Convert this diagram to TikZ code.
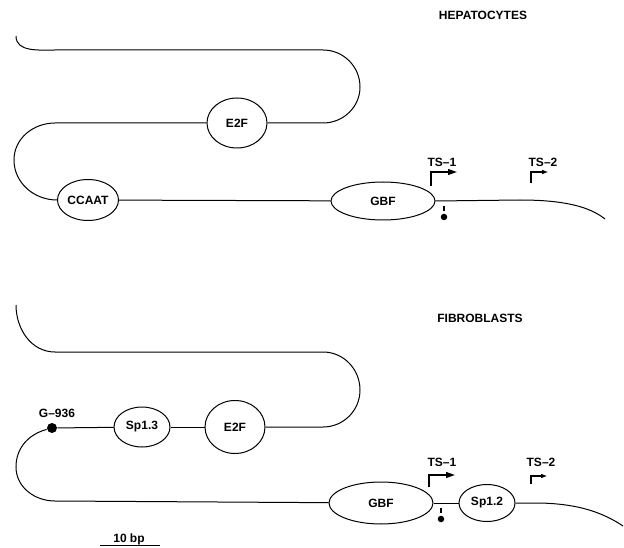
\documentclass[tikz,border=0pt]{standalone}
\usepackage{fontspec}
\setmainfont{Liberation Sans}
\usetikzlibrary{arrows.meta,shapes.geometric}

\tikzset{
  site/.style={draw, ellipse, inner sep=0pt},
  gdot/.style={circle, fill, inner sep=0pt, minimum size=#1},
  tsarrow/.style={line width=1.4pt, -{Triangle[length=#1, width=0.65*#1]}},
}

\begin{document}
\begin{tikzpicture}[x=1pt, y=-1pt, line width=1pt, font=\bfseries\fontsize{12}{14}\selectfont]
  \useasboundingbox (0,0) rectangle (624,548);

  % hepatocytes
  \node (hepa) at (483,15) {HEPATOCYTES};
  \node[site, minimum width=60, minimum height=50] (e2fA) at (237,123) {E2F};
  \node[site, minimum width=61, minimum height=41] (ccaatA) at (88,200) {CCAAT};
  \node[site, minimum width=104, minimum height=38] (gbfA) at (383,201) {GBF};
  \coordinate (startA) at (16,36);
  \coordinate (endA) at (605,219);
  \draw (startA) to[out=-90, in=180] (55,50) -- (323,50) to[out=0, in=90] (360,87)
        to[out=-90, in=0] (323,123) -- (e2fA);
  \draw (e2fA) -- (55,123) to[out=180, in=90] (14,160) to[out=-90, in=180] (ccaatA.west);
  \draw (ccaatA) -- (gbfA);
  \draw (gbfA.east) -- (520,200) .. controls (565,200) and (590,207) .. (endA);
  \node (ts1A) at (442,162) {TS--1};
  \node (ts2A) at (543,162) {TS--2};
  \coordinate (ts1Abase) at (431,186);
  \coordinate (ts2Abase) at (531,183);
  \draw[tsarrow=9pt] (ts1Abase) |- (457,172);
  \draw[tsarrow=6pt] (ts2Abase) |- (548,172);
  \node[gdot=6.5] (dropA) at (444,217) {};
  \draw[line width=1.3pt] (444,206) -- (444,211);

  % fibroblasts
  \node (fibro) at (480,318) {FIBROBLASTS};
  \node[site, minimum width=60, minimum height=53] (e2fB) at (235,427) {E2F};
  \node[site, minimum width=56, minimum height=40] (sp13B) at (142,427) {Sp1.3};
  \node[gdot=10] (g936) at (52,428) {};
  \node (g936lbl) at (57,413) {G--936};
  \node[site, minimum width=104, minimum height=42] (gbfB) at (381,503) {GBF};
  \node[site, minimum width=56, minimum height=37] (sp12B) at (487,503) {Sp1.2};
  \coordinate (startB) at (16,305);
  \coordinate (endB) at (623,526);
  \draw (startB) to[out=-90, in=180] (55,352) -- (323,352) to[out=0, in=90] (360,390)
        to[out=-90, in=0] (323,427) -- (e2fB);
  \draw (e2fB) -- (sp13B);
  \draw (sp13B) -- (g936);
  \draw (g936) to[out=195, in=90] (16,467) to[out=-90, in=180] (55,501) -- (gbfB);
  \draw (gbfB) -- (sp12B);
  \draw (sp12B.east) -- (535,503) .. controls (580,503) and (605,514) .. (endB);
  \node (ts1B) at (442,462) {TS--1};
  \node (ts2B) at (541,462) {TS--2};
  \coordinate (ts1Bbase) at (429,487);
  \coordinate (ts2Bbase) at (531,484);
  \draw[tsarrow=9pt] (ts1Bbase) |- (455,475);
  \draw[tsarrow=6pt] (ts2Bbase) |- (547,476);
  \node[gdot=6.5] (dropB) at (441,519) {};
  \draw[line width=1.3pt] (441,508) -- (441,513);

  % scale
  \node (scale) at (129,539) {10 bp};
  \coordinate (barL) at (100,545);
  \coordinate (barR) at (160,545);
  \draw (barL) -- (barR);
\end{tikzpicture}
\end{document}
